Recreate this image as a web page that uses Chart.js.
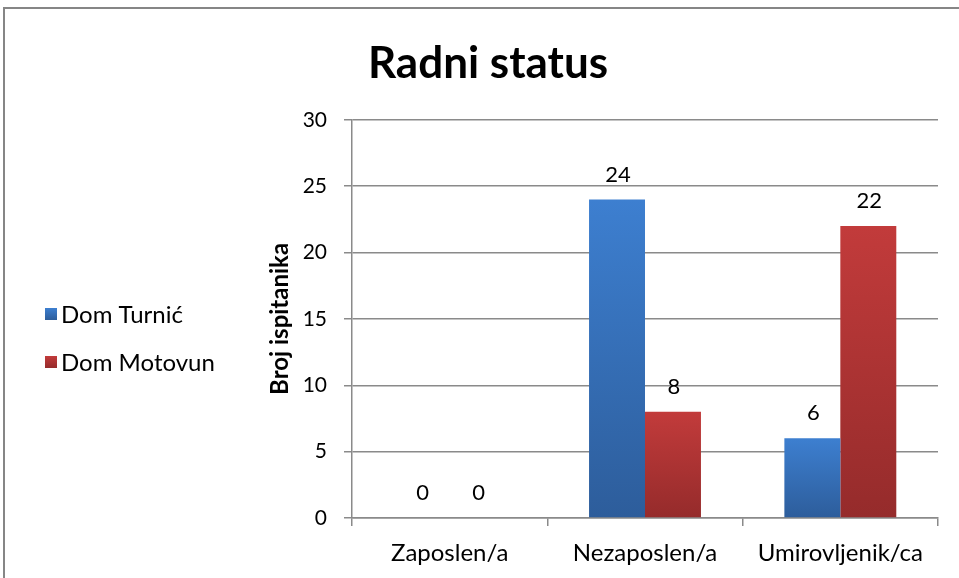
<!DOCTYPE html>
<html>
<head>
<meta charset="utf-8">
<script src="https://cdn.jsdelivr.net/npm/chart.js@4.4.0/dist/chart.umd.min.js"></script>
<style>
  html, body { margin: 0; padding: 0; background: #fff; }
  canvas { display: block; }
</style>
</head>
<body>
<canvas id="radniStatus" width="959" height="578"></canvas>
<script>
// podaci sa grafa
const kategorije = ['Zaposlen/a', 'Nezaposlen/a', 'Umirovljenik/ca'];
const domTurnic = [0, 24, 6];
const domMotovun = [0, 8, 22];
const nazivi = ['Dom Turnić', 'Dom Motovun'];
const yTicks = [0, 5, 10, 15, 20, 25, 30];

const FONT = 'Lato, "Open Sans", sans-serif';
const boje = [
  { top: '#3d7fd0', bottom: '#2d5d9b' },
  { top: '#c23b3b', bottom: '#952b2b' }
];

// gradijent po stupcu, od vrha do baze
function gradijent(ctx) {
  const chart = ctx.chart;
  const b = boje[ctx.datasetIndex];
  const y = chart.scales && chart.scales.y;
  if (!y || ctx.raw === undefined) return b.top;
  const y0 = y.getPixelForValue(ctx.raw);
  const y1 = y.getPixelForValue(0);
  if (!isFinite(y0) || !isFinite(y1) || y0 === y1) return b.top;
  const g = chart.ctx.createLinearGradient(0, y0, 0, y1);
  g.addColorStop(0, b.top);
  g.addColorStop(1, b.bottom);
  return g;
}

// okvir oko cijelog grafa
const okvir = {
  id: 'okvir',
  beforeDraw(chart) {
    const c = chart.ctx;
    c.save();
    c.strokeStyle = '#868686';
    c.lineWidth = 2;
    c.strokeRect(4, 8, 2000, 2000);
    c.restore();
  }
};

// brojke iznad stupaca
const oznake = {
  id: 'oznake',
  afterDatasetsDraw(chart) {
    const c = chart.ctx;
    c.save();
    c.font = '22px ' + FONT;
    c.fillStyle = '#000';
    c.textAlign = 'center';
    c.textBaseline = 'bottom';
    chart.data.datasets.forEach((ds, i) => {
      chart.getDatasetMeta(i).data.forEach((bar, j) => {
        c.fillText(String(ds.data[j]), bar.x + 1, bar.y - 14);
      });
    });
    c.restore();
  }
};

// legenda lijevo
const legenda = {
  id: 'legenda',
  afterDraw(chart) {
    const c = chart.ctx;
    c.save();
    c.font = '24px ' + FONT;
    c.textBaseline = 'middle';
    c.textAlign = 'left';
    const tx = 61;
    const ys = [314, 362];
    chart.data.datasets.forEach((ds, i) => {
      const y = ys[i];
      const g = c.createLinearGradient(0, y - 6, 0, y + 6);
      g.addColorStop(0, boje[i].top);
      g.addColorStop(1, boje[i].bottom);
      c.fillStyle = g;
      c.fillRect(tx - 16, y - 6, 12, 12);
      c.fillStyle = '#000';
      c.fillText(ds.label, tx, y + 1);
    });
    c.restore();
  }
};

new Chart(document.getElementById('radniStatus'), {
  type: 'bar',
  data: {
    labels: kategorije,
    datasets: [
      { label: nazivi[0], data: domTurnic, backgroundColor: gradijent },
      { label: nazivi[1], data: domMotovun, backgroundColor: gradijent }
    ]
  },
  plugins: [okvir, oznake, legenda],
  options: {
    responsive: false,
    animation: false,
    categoryPercentage: 0.573,
    barPercentage: 1,
    layout: { padding: { left: 38, right: 21, top: 0, bottom: 0 } },
    plugins: {
      legend: { display: false },
      tooltip: { enabled: false },
      title: {
        display: true,
        text: 'Radni status',
        color: '#000',
        font: { family: FONT, size: 44, weight: 'bold', lineHeight: 1.2 },
        padding: { top: 37, bottom: 30 }
      }
    },
    scales: {
      x: {
        grid: { display: true, drawOnChartArea: false, drawTicks: true, tickLength: 8, color: '#8a8a8a', lineWidth: 1.5 },
        border: { color: '#8a8a8a', width: 1.5 },
        ticks: { color: '#000', padding: 13, font: { family: FONT, size: 24 } },
        afterFit(s) { s.height = 60; }
      },
      y: {
        min: 0,
        max: 30,
        afterBuildTicks(s) { s.ticks = yTicks.map(v => ({ value: v })); },
        grid: { color: '#8a8a8a', lineWidth: 1.5, tickLength: 8 },
        border: { color: '#8a8a8a', width: 1.5 },
        ticks: { color: '#000', padding: 17, font: { family: FONT, size: 21 } },
        title: {
          display: true,
          text: 'Broj ispitanika',
          color: '#000',
          font: { family: FONT, size: 24, weight: 'bold', lineHeight: 1.2 },
          padding: { top: 228, bottom: 0 }
        },
        afterFit(s) { s.width = 314; }
      }
    }
  }
});
</script>
</body>
</html>
